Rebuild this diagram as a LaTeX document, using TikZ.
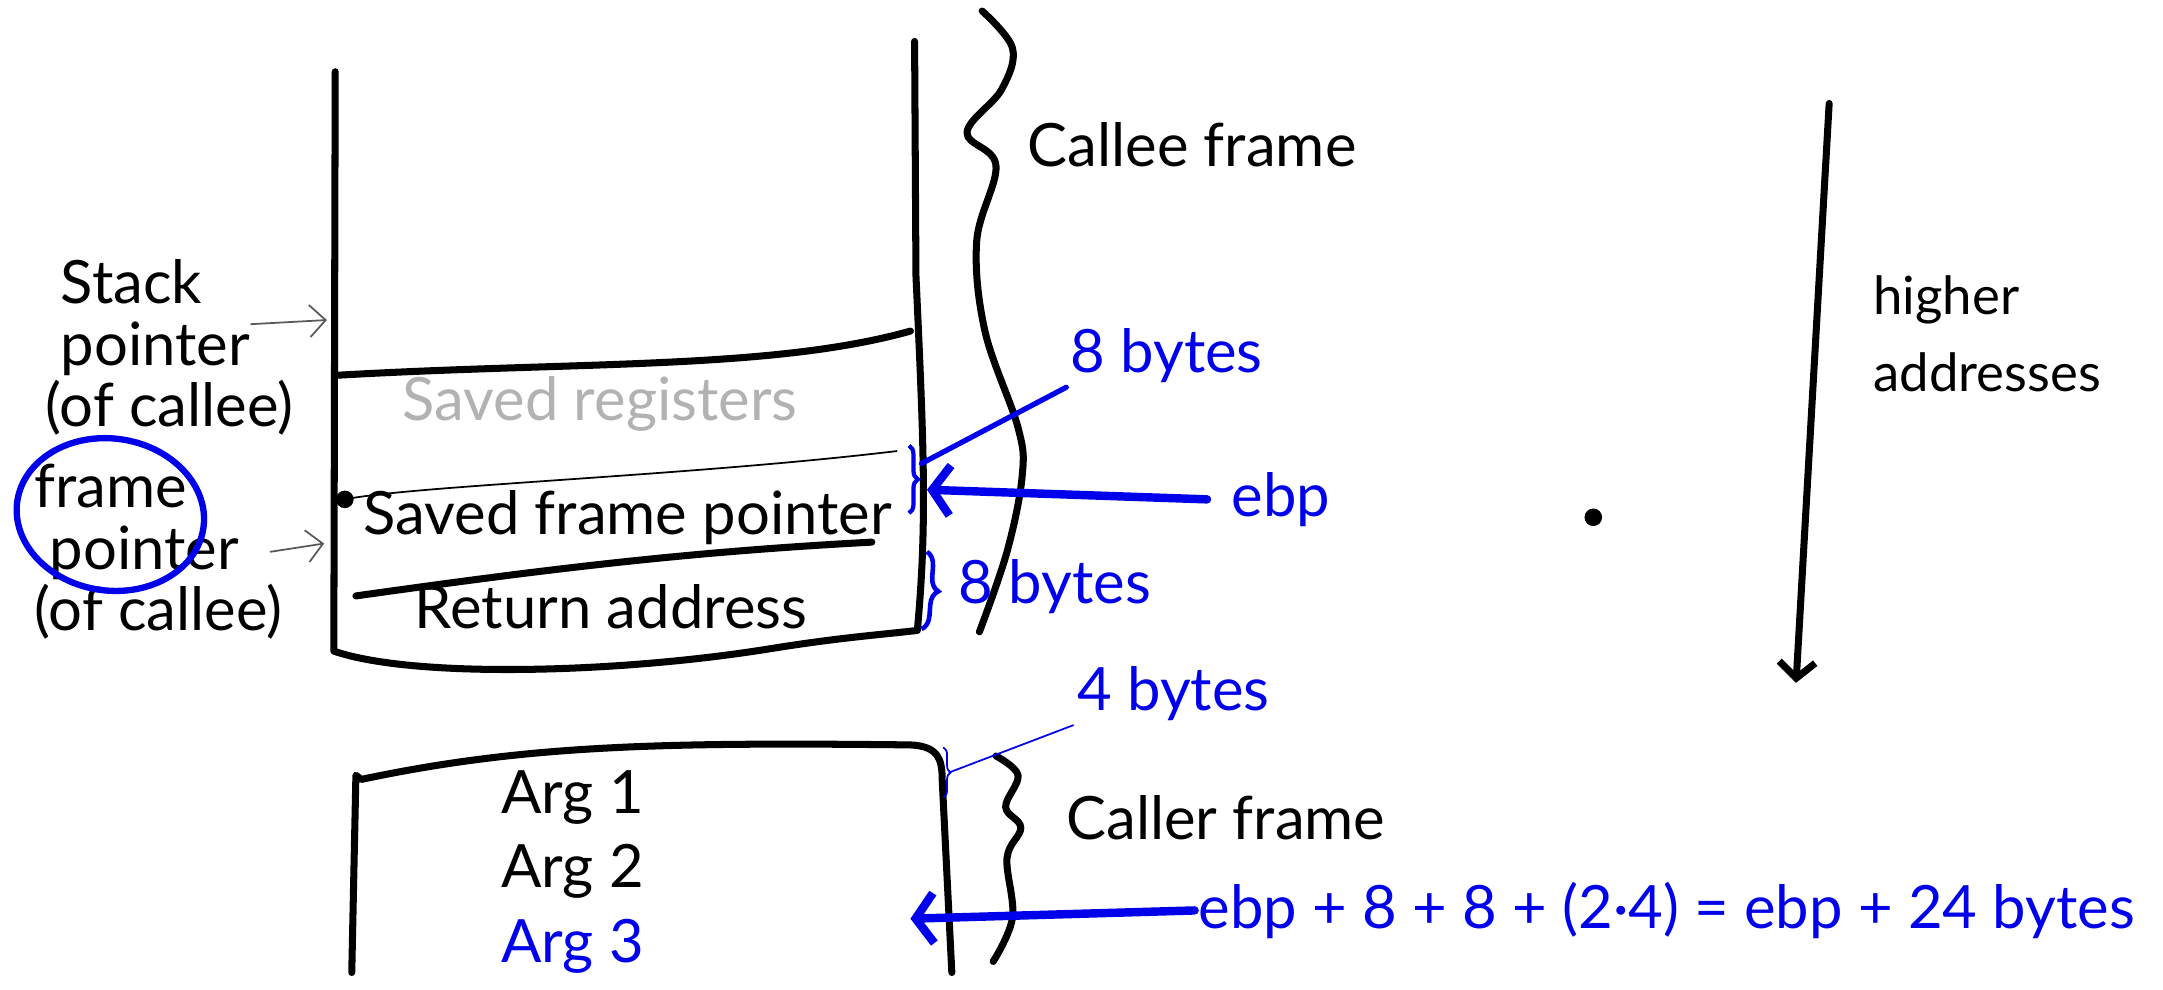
\documentclass[tikz,border=0pt]{standalone}
\usepackage{fontspec}
\setmainfont{Lato}
\usetikzlibrary{positioning,arrows.meta,decorations.pathreplacing}

\definecolor{penblue}{RGB}{0,0,235}

\tikzset{
  box/.style={line width=2pt, line cap=round, line join=round},
  thinline/.style={line width=0.5pt, line cap=round},
  note/.style={font=\fontsize{17}{19}\selectfont, inner sep=1pt},
  bluenote/.style={note, text=penblue},
  ptrarrow/.style={thinline, gray!70!black, -{Straight Barb[length=1.6mm,width=3.2mm]}},
  bluearrow/.style={line width=2.4pt, penblue, line cap=round, -{Straight Barb[length=1.8mm,width=5mm]}},
  smallbrace/.style={decorate, decoration={brace, amplitude=#1}, penblue},
}

\begin{document}
\begin{tikzpicture}[x=0.0138cm, y=-0.0138cm]
\useasboundingbox (0,0) rectangle (1568,717);

% callee frame on the stack
\draw[box] (243,52) -- (242,472)
  .. controls (300,492) and (450,488) .. (560,470)
  .. controls (610,462) and (640,460) .. (665,457)
  .. controls (672,380) and (670,330) .. (664,200) -- (663,30);
\draw[box] (245,272) .. controls (420,262) and (560,268) .. (660,240);
\draw[thinline] (250,362) .. controls (300,352) and (500,345) .. (650,327);
\fill (250,362) circle (2.5pt);
\draw[box] (258,432) .. controls (400,412) and (500,400) .. (632,393);

\node[note, text=gray!60] (SR) at (435,293) {Saved registers};
\node[note] (SFP) at (455,375) {Saved frame pointer};
\node[note] (RA) at (443,440) {Return address};

% caller frame below it
\draw[box] (255,705) -- (258,562) -- (262,565)
  .. controls (380,540) and (480,538) .. (660,540)
  .. controls (680,541) and (683,550) .. (683,565) -- (690,705);

\node[note] (A1) at (415,578) {Arg 1};
\node[note] (A2) [below=0.12cm of A1] {Arg 2};
\node[note, text=penblue] (A3) [below=0.12cm of A2] {Arg 3};

% braces on the right
\draw[box] plot[smooth, tension=0.6] coordinates {(712,8) (734,35) (726,65) (701,96) (722,120) (708,175) (714,240) (738,310) (741,345) (730,400) (710,458)};
\node[note, anchor=west] (CE) at (742,105) {Callee frame};

\draw[box] plot[smooth, tension=0.6] coordinates {(722,548) (738,562) (729,585) (740,600) (730,622) (734,665) (720,697)};
\node[note, anchor=west] (CR) at (770,593) {Caller frame};

% saved frame pointer slot and where ebp points
\draw[smallbrace=2.5pt, line width=1.2pt] (659,323) -- (659,372);
\coordinate (FPb) at (668,336);
\node[bluenote, anchor=west] (B8a) at (773,258) {8 bytes};
\draw[penblue, line width=1.5pt, line cap=round] (FPb) -- (B8a.south west);

\coordinate (FPtip) at (672,355);
\node[bluenote, anchor=west] (EBP) at (890,362) {ebp};
\draw[bluearrow] (EBP.west) ++(-15,0) -- (FPtip);

\draw[smallbrace=4pt, line width=1.3pt] (672,400) -- (668,456);
\node[bluenote, anchor=west] (B8b) at (692,425) {8 bytes};

% first argument slot
\draw[smallbrace=2pt, thinline, penblue] (684,542) -- (684,578);
\coordinate (ARGb) at (688,560);
\node[bluenote, anchor=west] (B4) at (778,503) {4 bytes};
\draw[thinline, penblue] (ARGb) -- (B4.south west);

\coordinate (A3tip) at (660,666);
\node[bluenote, anchor=west] (EQ) at (866,660) {ebp + 8 + 8 + (2·4) = ebp + 24 bytes};
\draw[bluearrow] (EQ.west) -- (A3tip);

% labels on the left
\node[note, align=left, anchor=west, font=\fontsize{17}{17.5}\selectfont] (SP) at (30,252) {\ Stack\\\ pointer\\(of callee)};
\coordinate (SPtail) at (182,235);
\coordinate (SPtip) at (237,232);
\draw[ptrarrow] (SPtail) -- (SPtip);

\node[note, align=left, anchor=west, font=\fontsize{17}{17.5}\selectfont] (FP) at (22,400) {frame\\\ pointer\\(of callee)};
\draw[penblue, line width=1.8pt, rotate around={-8:(80,373)}] (80,373) ellipse [x radius=0.94cm, y radius=0.76cm];
\coordinate (FPtail) at (196,400);
\coordinate (FPtip2) at (235,394);
\draw[ptrarrow] (FPtail) -- (FPtip2);

\fill (1155,375) circle (2.5pt);

% growth direction of addresses
\coordinate (HAtop) at (1326,75);
\coordinate (HAbot) at (1302,495);
\draw[line width=2pt, line cap=round, -{Straight Barb[length=1.6mm,width=3.6mm]}] (HAtop) -- (HAbot);
\node[note, align=left, anchor=west, font=\fontsize{15}{22}\selectfont] (HA) at (1355,242) {higher\\addresses};

\end{tikzpicture}
\end{document}
